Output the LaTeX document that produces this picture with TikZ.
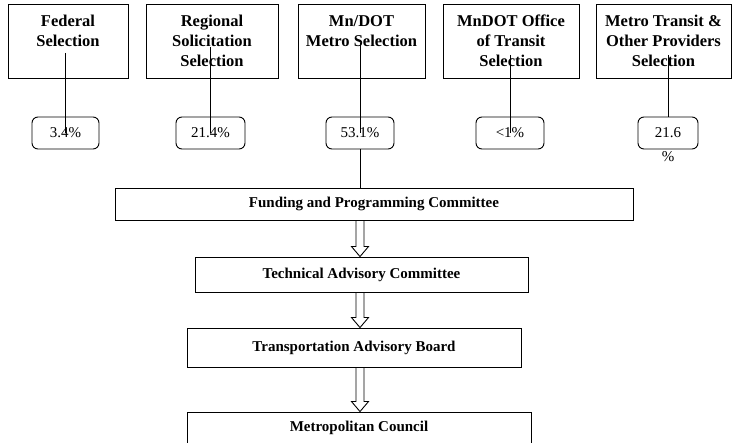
\documentclass[tikz,border=0pt]{standalone}
\usepackage{fontspec}
\setmainfont{Liberation Serif}
\begin{document}
\begin{tikzpicture}[x=1pt,y=-1pt]
\tikzstyle{selBox}=[draw, line width=0.9pt, minimum height=74pt, inner sep=0pt, align=center, font=\bfseries\fontsize{16.5}{20}\selectfont]
\tikzstyle{pctBox}=[draw, rounded corners=6pt, line width=0.9pt, minimum height=32pt, inner sep=0pt, font=\fontsize{15}{18}\selectfont]
\tikzstyle{committee}=[draw, line width=0.9pt, inner sep=0pt, font=\bfseries\fontsize{15}{18}\selectfont]
\tikzstyle{hollowArrow}=[line width=0.9pt, to path={([xshift=-4pt]\tikztostart) -- ([xshift=-4pt,yshift=10pt]\tikztotarget) -- ([xshift=-8.5pt,yshift=10pt]\tikztotarget) -- (\tikztotarget) -- ([xshift=8.5pt,yshift=10pt]\tikztotarget) -- ([xshift=4pt,yshift=10pt]\tikztotarget) -- ([xshift=4pt]\tikztostart)}]
\useasboundingbox (0,0) rectangle (732,443);
\clip (0,0) rectangle (732,443);

%Selection boxes
\node[selBox, minimum width=120pt] (federalSel)   at (68,41)    {Federal\\Selection\\\phantom{Selection}};
\node[selBox, minimum width=132pt] (regionalSel)  at (212,41)   {Regional\\Solicitation\\Selection};
\node[selBox, minimum width=127pt] (mndotSel)     at (361.5,41) {Mn/DOT\\Metro Selection\\\phantom{Selection}};
\node[selBox, minimum width=136pt] (transitSel)   at (511,41)   {MnDOT Office\\of Transit\\Selection};
\node[selBox, minimum width=135pt] (providersSel) at (663.5,41) {Metro Transit \&\\Other Providers\\Selection};

%Percentage boxes
\node[pctBox, minimum width=67pt] (federalPct)  at (65.5,133)  {3.4\%};
\node[pctBox, minimum width=69pt] (regionalPct) at (210.5,133) {21.4\%};
\node[pctBox, minimum width=68pt] (mndotPct)    at (360,133)   {53.1\%};
\node[pctBox, minimum width=68pt] (transitPct)  at (510,133)   {<1\%};
\node[pctBox, minimum width=60pt, label={[font=\fontsize{15}{18}\selectfont, inner sep=0pt, yshift=-2pt]below:\%}] (providersPct) at (668,133) {21.6};

%Committees
\node[committee, minimum width=518pt, minimum height=32pt] (funding)        at (374,204)     {Funding and Programming Committee};
\node[committee, minimum width=333pt, minimum height=35pt] (technical)      at (361.5,274.5) {Technical Advisory Committee};
\node[committee, minimum width=334pt, minimum height=39pt] (transportation) at (354,347.5)   {Transportation Advisory Board};
\node[committee, minimum width=344pt, minimum height=32pt] (council)        at (359,428)     {Metropolitan Council};

% connections
\draw[line width=0.9pt] ([yshift=-12pt]federalSel.center -| federalPct)   -- (federalPct.center);
\draw[line width=0.9pt] ([yshift=-6pt]regionalSel.center -| regionalPct)  -- (regionalPct.center);
\draw[line width=0.9pt] ([yshift=-2pt]mndotSel.center -| mndotPct)        -- (mndotPct.center);
\draw[line width=0.9pt] ([yshift=-14pt]transitSel.center -| transitPct)   -- (transitPct.center);
\draw[line width=0.9pt] ([yshift=-14pt]providersSel.center -| providersPct) -- (providersPct.north);

\draw[line width=0.9pt] (mndotPct) -- (mndotPct |- funding.north);

%Committee arrows
\draw[hollowArrow] (funding.south -| mndotPct)        to (technical.north -| mndotPct);
\draw[hollowArrow] (technical.south -| mndotPct)      to (transportation.north -| mndotPct);
\draw[hollowArrow] (transportation.south -| mndotPct) to (council.north -| mndotPct);

\end{tikzpicture}
\end{document}
